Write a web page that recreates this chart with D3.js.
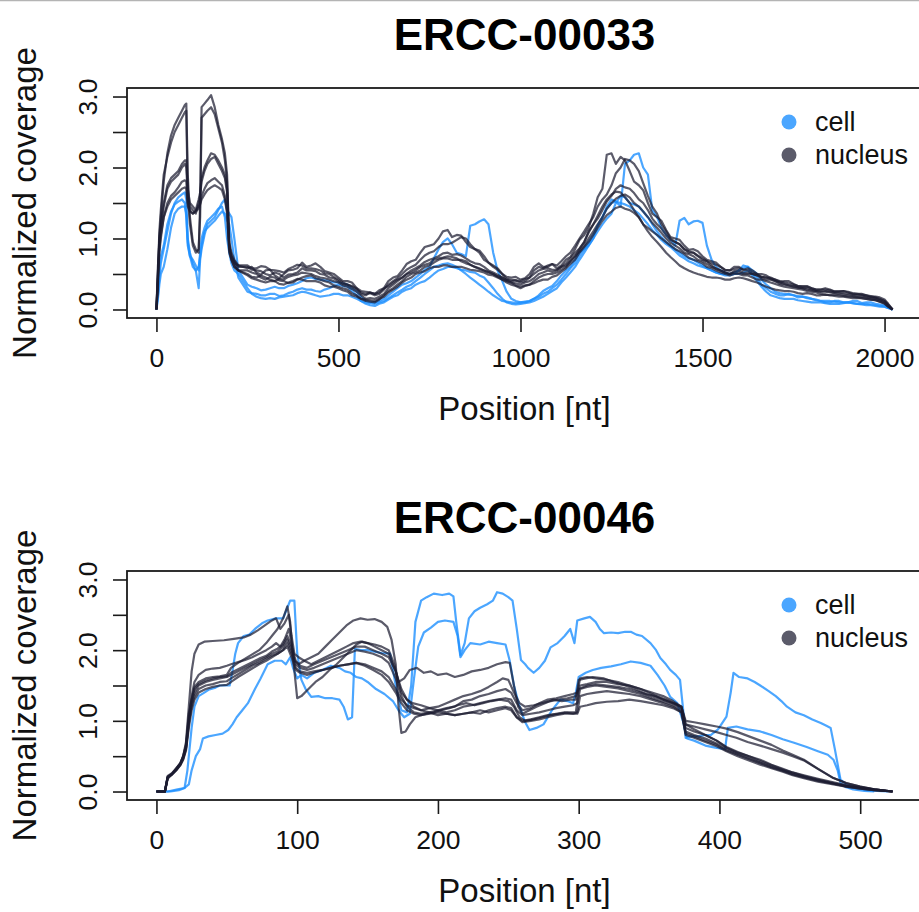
<!DOCTYPE html>
<html>
<head>
<meta charset="utf-8">
<script src="https://cdn.jsdelivr.net/npm/d3@7"></script>
<style>
  body { margin: 0; background: #fff; }
  svg { display: block; }
</style>
</head>
<body>
<script>
// colours
const cellColor = "rgba(30,144,255,0.8)";
const nucColor = "rgba(28,28,48,0.72)";

const legendLabels = ["cell", "nucleus"];
const yTicks = [0, 0.5, 1, 1.5, 2, 2.5, 3];
const yLabelled = [0, 1, 2, 3];

// ---------- ERCC-00033 ----------
const title33 = "ERCC-00033";
const xTicks33 = [0, 500, 1000, 1500, 2000];
const pos33 = [
  0, 4, 8, 12, 20, 30, 40, 50, 60, 70,
  78, 82, 86, 92, 100, 108, 116, 120, 124, 132,
  140, 150, 160, 170, 180, 188, 194, 200, 206, 214,
  225,
  250, 275, 300, 325, 350, 375, 400, 425, 450, 475,
  500, 525, 550, 575, 600, 625, 650, 675, 700, 725,
  750, 775, 800, 825, 850, 875, 900, 925, 950, 975,
  1000, 1025, 1050, 1075, 1100, 1125, 1150, 1175, 1200, 1225,
  1250, 1275, 1300, 1325, 1350, 1375, 1400, 1425, 1450, 1475,
  1500, 1525, 1550, 1575, 1600, 1625, 1650, 1675, 1700, 1725,
  1750, 1775, 1800, 1825, 1850, 1875, 1900, 1925, 1950, 1975,
  2000, 2010, 2022
];
// extra in-between positions (the curves are noisy)
const pos33mid = [
  262, 287, 312, 337, 362, 387, 412, 437, 462, 487,
  512, 537, 562, 587, 612, 637, 662, 687, 712, 737,
  762, 787, 812, 837, 862, 887, 912, 937, 962, 987,
  1012, 1037, 1062, 1087, 1112, 1137, 1162, 1187, 1212, 1237,
  1262, 1287, 1312, 1337, 1362, 1387, 1412, 1437, 1462, 1487,
  1512, 1537, 1562, 1587, 1612, 1637, 1662, 1687, 1712, 1737,
  1762, 1787, 1812, 1837, 1862, 1887, 1912, 1937, 1962, 1987
];

const cell33a = [
  0, .2, .45, .65, .85, 1.1, 1.35, 1.5, 1.58, 1.62,
  1.65, 1.55, 1.0, .8, .65, .55, .3, .7, .85, 1.05,
  1.2, 1.25, 1.3, 1.4, 1.5, 1.55, 1.4, 1.35, 1.3, 1.0,
  .55,
  .35, .3, .28, .32, .3, .35, .4, .45, .42, .4,
  .38, .35, .25, .12, .1, .15, .25, .35, .4, .5,
  .6, .85, 1.0, .8, .75, 1.2, 1.27, .8, .4, .15,
  .1, .12, .2, .3, .4, .55, .7, .85, 1.0, 1.3,
  1.5, 1.45, 2.1, 2.2, 1.9, 1.3, 1.05, .9, 1.29, 1.24,
  1.22, .7, .55, .5, .55, .6, .45, .3, .22, .2,
  .2, .18, .15, .12, .1, .12, .1, .12, .1, .08,
  .06, .03, 0
];
const cell33aMid = [
  .32, .27, .3, .3, .33, .37, .44, .43, .41, .38,
  .37, .3, .18, .1, .12, .2, .3, .37, .45, .56,
  .72, .95, .92, .78, 1.18, 1.24, 1.2, .55, .25, .12,
  .1, .15, .26, .33, .48, .6, .8, .9, 1.18, 1.42,
  1.52, 2.05, 2.18, 2.0, 1.4, 1.15, .98, 1.25, 1.2, 1.25,
  .9, .6, .52, .5, .62, .5, .35, .25, .2, .22,
  .17, .17, .14, .1, .12, .1, .12, .09, .1, .07
];
const cell33b = [
  0, .15, .35, .5, .6, .85, 1.15, 1.35, 1.42, 1.45,
  1.45, 1.35, .95, .75, .6, .55, .6, .75, .9, 1.1,
  1.15, 1.2, 1.25, 1.32, 1.38, 1.35, 1.25, 1.2, 1.0, .7,
  .45,
  .25, .22, .2, .22, .2, .25, .3, .28, .25, .3,
  .35, .32, .2, .08, .05, .1, .18, .25, .3, .38,
  .45, .55, .6, .58, .55, .52, .45, .3, .15, .08,
  .08, .1, .15, .22, .3, .45, .6, .8, 1.0, 1.2,
  1.35, 1.6, 1.5, 1.45, 1.3, 1.1, .95, .85, .75, .7,
  .62, .55, .5, .48, .5, .55, .4, .25, .18, .15,
  .15, .12, .1, .1, .08, .08, .1, .08, .06, .05,
  .04, .02, 0
];
const cell33bMid = [
  .23, .2, .22, .19, .23, .28, .28, .26, .28, .33,
  .33, .26, .12, .06, .08, .14, .2, .28, .35, .4,
  .5, .57, .6, .56, .53, .48, .38, .22, .1, .07,
  .09, .12, .18, .26, .38, .52, .7, .9, 1.1, 1.28,
  1.5, 1.58, 1.48, 1.38, 1.2, 1.02, .9, .8, .72, .66,
  .58, .52, .48, .5, .52, .48, .32, .2, .16, .15,
  .13, .11, .1, .09, .08, .09, .09, .07, .06, .04
];
const cell33c = [
  0, .3, .55, .75, .9, 1.2, 1.38, 1.48, 1.52, 1.55,
  1.5, 1.3, .9, .75, .7, .62, .55, .8, 1.0, 1.15,
  1.25, 1.3, 1.35, 1.42, 1.45, 1.3, 1.0, .8, .65, .55,
  .5,
  .3, .18, .15, .15, .18, .2, .25, .22, .18, .2,
  .22, .2, .15, .1, .08, .12, .2, .28, .35, .45,
  .55, .62, .65, .6, .5, .4, .3, .2, .12, .1,
  .1, .12, .18, .25, .35, .5, .65, .85, 1.05, 1.3,
  1.55, 1.5, 1.45, 1.35, 1.2, 1.05, .92, .82, .72, .65,
  .6, .55, .5, .5, .55, .6, .5, .35, .25, .22,
  .2, .18, .15, .12, .12, .1, .1, .08, .08, .06,
  .04, .02, 0
];
const cell33cMid = [
  .22, .16, .16, .17, .19, .23, .24, .2, .19, .22,
  .2, .18, .12, .09, .1, .16, .24, .32, .4, .5,
  .6, .64, .63, .55, .45, .35, .25, .16, .11, .09,
  .11, .15, .22, .3, .42, .58, .75, .95, 1.18, 1.45,
  1.52, 1.48, 1.4, 1.28, 1.12, .98, .88, .76, .68, .62,
  .58, .52, .5, .52, .58, .55, .42, .3, .23, .21,
  .19, .16, .13, .12, .11, .1, .09, .08, .07, .05
];

const nuc33a = [
  0, .3, 1.0, 1.3, 1.8, 2.2, 2.45, 2.6, 2.7, 2.8,
  2.88, 2.9, 1.9, 1.3, .95, .85, .8, 1.5, 2.85, 2.9,
  2.95, 3.02, 2.85, 2.6, 2.4, 2.2, 1.9, .95, .8, .7,
  .62,
  .58, .52, .55, .48, .5, .56, .66, .62, .6, .52,
  .45, .4, .3, .2, .22, .3, .45, .55, .68, .8,
  .9, 1.0, 1.12, 1.05, .95, .85, .75, .62, .5, .42,
  .38, .45, .6, .62, .58, .7, .85, 1.05, 1.35, 1.7,
  2.2, 2.15, 1.95, 1.75, 1.5, 1.3, 1.12, 1.0, .9, .85,
  .75, .68, .6, .55, .6, .58, .5, .45, .42, .4,
  .36, .33, .3, .28, .28, .25, .24, .22, .2, .18,
  .14, .08, 0
];
const nuc33aMid = [
  .6, .49, .56, .44, .55, .58, .6, .65, .54, .5,
  .4, .38, .22, .24, .24, .4, .47, .64, .7, .88,
  .92, 1.1, 1.02, 1.04, .88, .83, .66, .58, .43, .41,
  .4, .55, .58, .64, .62, .74, .98, 1.15, 1.58, 2.18,
  2.05, 2.1, 1.8, 1.68, 1.35, 1.25, 1.02, .98, .84, .82,
  .7, .66, .55, .6, .56, .55, .46, .45, .39, .4,
  .33, .33, .28, .3, .25, .26, .22, .22, .18, .17
];
const nuc33b = [
  0, .5, 1.1, 1.4, 1.9, 2.15, 2.35, 2.5, 2.6, 2.7,
  2.78, 2.8, 1.6, 1.2, .9, .8, .85, 1.3, 2.7, 2.75,
  2.8, 2.85, 2.75, 2.55, 2.35, 2.1, 1.8, .9, .75, .68,
  .6,
  .6, .55, .5, .52, .45, .5, .58, .55, .5, .45,
  .4, .35, .28, .22, .2, .28, .4, .5, .6, .7,
  .8, .88, .92, .98, 1.0, .85, .7, .6, .5, .45,
  .42, .5, .65, .6, .62, .75, .9, 1.1, 1.3, 1.55,
  1.75, 2.0, 2.1, 1.95, 1.6, 1.35, 1.1, .95, .85, .8,
  .7, .62, .55, .5, .55, .52, .48, .42, .4, .35,
  .33, .3, .28, .25, .25, .24, .22, .2, .18, .16,
  .12, .06, 0
];
const nuc33bMid = [
  .56, .54, .48, .5, .49, .52, .55, .54, .49, .44,
  .36, .32, .24, .23, .22, .35, .44, .56, .63, .76,
  .82, .92, .94, 1.02, .92, .8, .66, .56, .46, .46,
  .44, .6, .6, .64, .68, .8, 1.0, 1.2, 1.45, 1.62,
  1.92, 2.12, 2.05, 1.78, 1.45, 1.2, 1.0, .92, .8, .75,
  .68, .57, .52, .54, .52, .5, .44, .42, .36, .34,
  .31, .3, .26, .26, .24, .23, .21, .2, .17, .14
];
const nuc33c = [
  0, .6, 1.0, 1.2, 1.5, 1.75, 1.85, 1.9, 1.95, 2.05,
  2.1, 2.1, 1.7, 1.5, 1.45, 1.4, 1.55, 1.65, 1.85, 2.0,
  2.1, 2.2, 2.18, 2.1, 2.0, 1.9, 1.7, .9, .75, .65,
  .55,
  .5, .45, .45, .4, .42, .48, .52, .5, .45, .42,
  .38, .32, .25, .15, .15, .22, .35, .45, .55, .62,
  .7, .75, .8, .78, .72, .65, .6, .52, .45, .38,
  .35, .4, .5, .55, .55, .65, .8, .95, 1.2, 1.4,
  1.6, 1.75, 1.7, 1.55, 1.4, 1.2, 1.05, .95, .85, .8,
  .72, .65, .6, .55, .58, .55, .5, .48, .42, .38,
  .35, .32, .3, .28, .27, .26, .25, .22, .2, .17,
  .12, .07, 0
];
const nuc33cMid = [
  .46, .48, .42, .43, .46, .49, .51, .47, .44, .4,
  .34, .29, .2, .16, .18, .3, .4, .5, .58, .67,
  .72, .79, .77, .76, .68, .64, .55, .49, .41, .37,
  .38, .44, .52, .53, .6, .72, .86, 1.1, 1.28, 1.52,
  1.7, 1.72, 1.64, 1.5, 1.28, 1.14, .98, .92, .82, .76,
  .68, .63, .56, .57, .56, .52, .5, .44, .4, .37,
  .33, .32, .28, .28, .26, .26, .23, .21, .19, .15
];
const nuc33d = [
  0, .5, .95, 1.15, 1.45, 1.7, 1.8, 1.85, 1.9, 2.0,
  2.05, 2.0, 1.6, 1.45, 1.4, 1.35, 1.5, 1.6, 1.8, 1.95,
  2.05, 2.12, 2.15, 2.05, 1.95, 1.85, 1.65, .85, .7, .6,
  .55,
  .55, .5, .42, .45, .4, .38, .45, .48, .42, .38,
  .32, .28, .2, .12, .1, .2, .3, .4, .5, .55,
  .62, .7, .72, .7, .68, .6, .55, .5, .42, .35,
  .3, .35, .45, .5, .52, .6, .75, .9, 1.1, 1.3,
  1.5, 1.6, 1.58, 1.45, 1.3, 1.15, 1.0, .9, .8, .75,
  .68, .6, .55, .5, .52, .5, .48, .45, .4, .36,
  .32, .3, .27, .25, .24, .22, .2, .18, .17, .15,
  .1, .05, 0
];
const nuc33dMid = [
  .52, .45, .46, .41, .37, .42, .47, .44, .4, .34,
  .3, .23, .15, .11, .14, .26, .35, .46, .52, .6,
  .66, .72, .7, .7, .63, .58, .52, .46, .38, .33,
  .33, .4, .48, .5, .56, .68, .82, 1.0, 1.2, 1.42,
  1.56, 1.62, 1.5, 1.38, 1.22, 1.08, .94, .86, .78, .7,
  .64, .58, .52, .52, .5, .5, .46, .43, .38, .34,
  .31, .28, .26, .25, .23, .21, .19, .18, .16, .13
];
const nuc33e = [
  0, .4, .8, 1.0, 1.3, 1.5, 1.6, 1.65, 1.72, 1.8,
  1.82, 1.8, 1.5, 1.4, 1.35, 1.4, 1.45, 1.5, 1.6, 1.7,
  1.78, 1.82, 1.85, 1.8, 1.75, 1.6, 1.4, .8, .7, .6,
  .55,
  .48, .42, .38, .4, .35, .4, .42, .4, .38, .32,
  .3, .25, .18, .14, .12, .18, .28, .38, .45, .52,
  .58, .6, .62, .6, .58, .55, .52, .48, .42, .38,
  .32, .35, .4, .42, .48, .58, .7, .88, 1.05, 1.25,
  1.38, 1.45, 1.4, 1.3, 1.15, 1.05, .95, .85, .78, .7,
  .65, .58, .52, .48, .5, .48, .42, .4, .36, .32,
  .3, .28, .25, .22, .2, .2, .18, .17, .15, .13,
  .09, .04, 0
];
const nuc33eMid = [
  .44, .4, .4, .36, .38, .43, .4, .4, .34, .32,
  .27, .2, .15, .13, .15, .24, .32, .42, .5, .54,
  .6, .62, .6, .6, .56, .54, .49, .45, .4, .34,
  .34, .37, .42, .46, .53, .64, .8, .95, 1.15, 1.33,
  1.43, 1.42, 1.36, 1.2, 1.1, 1.0, .9, .82, .73, .68,
  .6, .55, .5, .5, .48, .45, .42, .38, .34, .31,
  .29, .26, .24, .21, .21, .19, .18, .16, .14, .11
];
const nuc33f = [
  0, .45, .85, 1.05, 1.3, 1.45, 1.55, 1.6, 1.65, 1.7,
  1.72, 1.7, 1.45, 1.38, 1.35, 1.38, 1.42, 1.48, 1.55, 1.62,
  1.68, 1.72, 1.75, 1.72, 1.68, 1.55, 1.35, .85, .72, .65,
  .62,
  .62, .58, .6, .55, .52, .6, .62, .58, .55, .5,
  .42, .35, .3, .25, .22, .3, .38, .45, .52, .6,
  .65, .72, .75, .72, .65, .6, .55, .5, .45, .4,
  .4, .45, .55, .58, .56, .62, .75, .95, 1.2, 1.45,
  1.62, 1.65, 1.5, 1.3, 1.1, .95, .8, .68, .58, .52,
  .48, .45, .44, .42, .45, .42, .38, .32, .28, .26,
  .25, .22, .22, .2, .2, .18, .17, .16, .15, .13,
  .08, .04, 0
];
const nuc33fMid = [
  .58, .61, .56, .54, .57, .63, .58, .57, .51, .46,
  .38, .33, .26, .24, .27, .33, .42, .5, .55, .63,
  .7, .73, .74, .68, .63, .57, .53, .47, .42, .41,
  .43, .5, .57, .56, .6, .68, .85, 1.08, 1.32, 1.55,
  1.66, 1.58, 1.4, 1.2, 1.02, .88, .74, .62, .55, .5,
  .46, .45, .42, .44, .44, .4, .35, .3, .27, .26,
  .23, .23, .2, .21, .19, .18, .16, .16, .14, .11
];

// ---------- ERCC-00046 ----------  ([position, coverage] pairs)
const title46 = "ERCC-00046";
const xTicks46 = [0, 100, 200, 300, 400, 500];

const cell46a = [[0,0],[8,0],[15,0.03],[20,0.05],[22,0.3],[25,0.9],[27,1.2],[30,1.35],[34,1.4],[37,1.44],[42,1.47],[45,1.5],[52,1.5],[54,1.7],[56,1.95],[58,2.1],[62,2.2],[66,2.22],[70,2.3],[75,2.38],[79,2.42],[85,2.45],[90,2.45],[93,2.6],[95,2.7],[98,2.7],[100,1.96],[103,1.58],[106,1.45],[110,1.34],[115,1.35],[120,1.32],[125,1.32],[130,1.3],[133,1.2],[136,1.02],[139,1.05],[141,2.02],[145,2.0],[150,2.0],[155,1.98],[160,1.96],[166,1.95],[170,1.5],[174,1.15],[178,1.12],[181,1.5],[184,2.4],[188,2.7],[192,2.75],[197,2.8],[203,2.78],[208,2.8],[211,2.76],[213,2.4],[216,1.93],[219,2.1],[222,2.45],[226,2.55],[230,2.6],[235,2.65],[239,2.7],[242,2.82],[246,2.8],[250,2.75],[253,2.7],[256,2.3],[259,1.86],[262,1.8],[264,1.75],[268,1.68],[272,1.75],[276,1.85],[280,2.04],[285,2.1],[290,2.2],[294,2.3],[297,2.1],[299,2.42],[304,2.45],[308,2.47],[312,2.4],[315,2.3],[318,2.24],[323,2.25],[328,2.24],[333,2.26],[337,2.26],[341,2.22],[345,2.2],[351,2.1],[355,2.0],[358,1.89],[362,1.8],[365,1.72],[369,1.65],[372,1.58],[374,1.2],[376,0.76],[380,0.78],[385,0.78],[390,0.8],[394,0.8],[399,0.88],[403,1.0],[405,1.06],[408,1.4],[410,1.68],[414,1.62],[420,1.6],[425,1.55],[429,1.5],[435,1.42],[440,1.35],[444,1.28],[448,1.2],[454,1.12],[460,1.08],[466,1.02],[472,0.97],[476,0.93],[479,0.9],[482,0.6],[486,0.17],[490,0.1],[495,0.06],[500,0.04],[505,0.02],[512,0.01],[520,0]];
const cell46b = [[0,0],[10,0],[16,0.02],[20,0.05],[23,0.1],[25,0.3],[28,0.5],[31,0.6],[33,0.75],[37,0.78],[42,0.8],[47,0.82],[51,0.87],[54,0.95],[57,1.05],[61,1.15],[65,1.25],[70,1.45],[74,1.6],[79,1.8],[84,1.85],[89,1.85],[92,1.8],[95,1.9],[97,1.75],[100,1.6],[103,1.65],[107,1.6],[112,1.68],[118,1.72],[124,1.78],[130,1.75],[134,1.7],[138,1.68],[142,1.62],[146,1.6],[150,1.55],[156,1.45],[162,1.38],[168,1.28],[172,1.15],[176,1.05],[180,1.1],[183,1.6],[186,2.05],[190,2.25],[195,2.32],[200,2.4],[205,2.42],[211,2.4],[214,2.2],[216,1.9],[219,2.0],[223,2.1],[230,2.08],[236,2.12],[242,2.1],[248,2.08],[251,1.85],[254,1.5],[258,1.2],[262,0.98],[265,0.87],[270,0.9],[275,0.95],[281,1.15],[287,1.3],[292,1.28],[296,1.25],[298,1.4],[300,1.62],[305,1.68],[310,1.72],[316,1.75],[323,1.77],[330,1.8],[337,1.84],[344,1.82],[351,1.78],[356,1.65],[361,1.5],[365,1.34],[370,1.25],[374,1.0],[377,0.75],[382,0.72],[390,0.65],[397,0.62],[404,0.6],[406,0.9],[412,0.92],[420,0.88],[429,0.85],[437,0.8],[445,0.74],[453,0.69],[462,0.63],[470,0.57],[477,0.52],[481,0.45],[484,0.3],[486,0.12],[490,0.06],[495,0.03],[503,0.01],[510,0]];

const nuc46a = [[0,0],[6,0],[8,0.2],[11,0.25],[14,0.32],[17,0.4],[19,0.5],[21,0.7],[23,1.2],[25,1.7],[27,1.95],[30,2.08],[34,2.12],[40,2.13],[48,2.14],[55,2.16],[62,2.18],[67,2.22],[72,2.28],[77,2.35],[82,2.42],[85,2.45],[88,2.3],[91,2.38],[94,2.5],[96,2.2],[98,1.95],[101,1.9],[105,1.85],[110,1.8],[115,1.85],[120,1.9],[125,1.95],[130,2.0],[135,2.05],[140,2.1],[145,2.12],[150,2.1],[155,2.08],[160,2.05],[165,2.0],[169,1.8],[172,1.55],[176,1.6],[180,1.72],[185,1.75],[190,1.68],[195,1.7],[200,1.65],[206,1.67],[212,1.62],[218,1.65],[224,1.7],[230,1.72],[236,1.75],[242,1.8],[248,1.83],[251,1.82],[254,1.5],[257,1.2],[260,1.1],[265,1.15],[270,1.2],[276,1.25],[282,1.3],[288,1.28],[294,1.3],[298,1.3],[300,1.58],[305,1.6],[310,1.62],[318,1.6],[325,1.55],[333,1.5],[340,1.45],[348,1.38],[355,1.35],[362,1.3],[368,1.25],[373,1.2],[376,0.95],[382,0.92],[390,0.88],[398,0.84],[405,0.8],[412,0.76],[420,0.7],[429,0.65],[437,0.6],[445,0.55],[452,0.5],[460,0.44],[470,0.32],[481,0.19],[490,0.12],[500,0.07],[510,0.03],[523,0]];
const nuc46b = [[0,0],[6,0],[8,0.18],[11,0.24],[14,0.3],[17,0.38],[19,0.48],[21,0.62],[23,1.0],[25,1.35],[27,1.55],[30,1.65],[35,1.72],[40,1.74],[45,1.75],[50,1.78],[53,1.8],[58,1.83],[63,1.86],[68,1.9],[73,1.95],[78,2.0],[82,2.05],[85,2.1],[88,2.05],[91,2.15],[94,2.3],[96,2.1],[98,1.85],[101,1.8],[105,1.85],[110,1.9],[115,1.95],[120,2.05],[125,2.15],[130,2.25],[135,2.35],[140,2.42],[145,2.45],[150,2.43],[155,2.44],[160,2.4],[164,2.33],[167,2.15],[170,1.8],[172,1.2],[174,0.83],[177,0.85],[180,0.95],[184,1.05],[188,1.08],[192,1.1],[197,1.12],[202,1.15],[208,1.18],[214,1.22],[220,1.25],[226,1.22],[232,1.25],[238,1.28],[244,1.3],[250,1.28],[254,1.2],[258,1.05],[262,1.0],[268,1.02],[274,1.05],[280,1.08],[286,1.1],[292,1.12],[298,1.12],[300,1.45],[306,1.5],[312,1.52],[320,1.5],[328,1.48],[336,1.45],[344,1.4],[352,1.35],[360,1.3],[367,1.25],[373,1.18],[376,0.9],[382,0.85],[390,0.8],[398,0.72],[405,0.63],[413,0.56],[421,0.5],[429,0.45],[437,0.38],[445,0.32],[452,0.27],[460,0.23],[470,0.18],[481,0.13],[490,0.09],[500,0.06],[510,0.03],[523,0]];
const nuc46c = [[0,0],[6,0],[8,0.22],[11,0.26],[14,0.33],[17,0.4],[19,0.5],[21,0.65],[23,1.05],[25,1.3],[27,1.48],[30,1.55],[35,1.6],[40,1.62],[45,1.63],[50,1.65],[53,1.75],[58,1.82],[63,1.88],[68,1.94],[73,2.0],[78,2.1],[82,2.2],[86,2.3],[90,2.45],[93,2.62],[95,2.4],[97,1.9],[100,1.32],[103,1.35],[108,1.45],[113,1.55],[118,1.62],[123,1.72],[128,1.8],[133,1.9],[138,2.0],[142,2.08],[146,2.12],[150,2.1],[155,2.05],[160,2.0],[165,1.95],[170,1.7],[174,1.4],[178,1.3],[182,1.25],[188,1.22],[194,1.18],[200,1.15],[206,1.18],[212,1.2],[218,1.28],[224,1.3],[230,1.35],[236,1.38],[242,1.42],[248,1.45],[252,1.4],[256,1.25],[260,1.15],[266,1.18],[272,1.25],[278,1.3],[284,1.32],[290,1.35],[296,1.38],[299,1.4],[301,1.6],[306,1.62],[312,1.6],[320,1.58],[328,1.55],[336,1.5],[344,1.45],[352,1.38],[360,1.3],[367,1.25],[373,1.2],[376,0.95],[382,0.88],[390,0.8],[398,0.72],[405,0.62],[413,0.55],[421,0.5],[429,0.43],[437,0.37],[445,0.31],[452,0.27],[460,0.22],[470,0.17],[481,0.12],[490,0.08],[500,0.05],[510,0.03],[523,0]];
const nuc46d = [[0,0],[6,0],[8,0.2],[11,0.24],[14,0.3],[17,0.38],[19,0.46],[21,0.6],[23,0.95],[25,1.25],[27,1.4],[30,1.5],[35,1.55],[40,1.58],[45,1.6],[50,1.62],[53,1.65],[58,1.7],[63,1.75],[68,1.8],[73,1.85],[78,1.9],[82,1.95],[86,1.98],[90,2.05],[93,2.15],[96,2.0],[99,1.8],[102,1.75],[107,1.72],[112,1.75],[118,1.8],[124,1.85],[130,1.9],[136,1.95],[142,2.0],[148,1.98],[154,1.95],[160,1.9],[165,1.82],[170,1.6],[174,1.35],[178,1.2],[183,1.12],[188,1.1],[194,1.12],[200,1.08],[206,1.1],[212,1.08],[218,1.1],[224,1.12],[230,1.1],[236,1.15],[242,1.18],[248,1.2],[252,1.18],[256,1.05],[260,0.98],[266,1.0],[272,1.02],[278,1.05],[284,1.08],[290,1.1],[296,1.1],[299,1.12],[301,1.35],[306,1.38],[312,1.4],[320,1.42],[328,1.4],[336,1.38],[344,1.35],[352,1.3],[360,1.25],[367,1.2],[373,1.12],[376,0.85],[382,0.8],[390,0.75],[398,0.68],[405,0.6],[413,0.53],[421,0.47],[429,0.41],[437,0.35],[445,0.3],[452,0.25],[460,0.21],[470,0.16],[481,0.11],[490,0.08],[500,0.05],[510,0.02],[523,0]];
const nuc46e = [[0,0],[6,0],[8,0.2],[11,0.25],[14,0.31],[17,0.39],[19,0.47],[21,0.62],[23,0.98],[25,1.2],[27,1.35],[30,1.45],[35,1.5],[40,1.52],[45,1.55],[50,1.56],[53,1.6],[58,1.66],[63,1.72],[68,1.78],[73,1.82],[78,1.88],[82,1.92],[86,1.95],[90,2.0],[93,2.1],[96,1.95],[99,1.75],[102,1.7],[107,1.68],[112,1.7],[118,1.72],[124,1.75],[130,1.78],[136,1.8],[142,1.82],[148,1.8],[154,1.75],[160,1.7],[165,1.62],[170,1.45],[174,1.3],[178,1.22],[183,1.18],[188,1.15],[194,1.18],[200,1.2],[206,1.25],[212,1.3],[218,1.35],[224,1.38],[230,1.42],[236,1.48],[242,1.55],[246,1.6],[250,1.58],[254,1.4],[258,1.25],[262,1.2],[268,1.22],[274,1.25],[280,1.28],[286,1.3],[292,1.32],[298,1.35],[301,1.5],[306,1.52],[312,1.55],[320,1.55],[328,1.52],[336,1.5],[344,1.45],[352,1.4],[360,1.35],[367,1.28],[373,1.2],[376,1.0],[382,0.98],[390,0.95],[398,0.92],[405,0.89],[413,0.84],[421,0.78],[429,0.72],[437,0.66],[445,0.58],[452,0.52],[460,0.45],[470,0.32],[481,0.19],[490,0.12],[500,0.07],[510,0.03],[523,0]];
const nuc46f = [[0,0],[6,0],[8,0.21],[11,0.25],[14,0.32],[17,0.4],[19,0.5],[21,0.66],[23,1.1],[25,1.3],[27,1.45],[30,1.52],[35,1.57],[40,1.6],[45,1.62],[50,1.63],[53,1.68],[58,1.73],[63,1.78],[68,1.83],[73,1.88],[78,1.92],[82,1.98],[86,2.02],[90,2.08],[93,2.2],[96,2.05],[99,1.85],[102,1.78],[107,1.75],[112,1.8],[118,1.85],[124,1.9],[130,1.95],[136,2.0],[142,2.05],[148,2.05],[154,2.0],[160,1.95],[165,1.9],[170,1.7],[174,1.45],[178,1.3],[183,1.2],[188,1.15],[194,1.12],[200,1.15],[206,1.12],[212,1.15],[218,1.2],[224,1.22],[230,1.25],[236,1.28],[242,1.3],[248,1.32],[252,1.3],[256,1.15],[260,1.08],[266,1.1],[272,1.12],[278,1.15],[284,1.18],[290,1.2],[296,1.22],[299,1.25],[301,1.45],[306,1.48],[312,1.5],[320,1.48],[328,1.46],[336,1.42],[344,1.38],[352,1.32],[360,1.27],[367,1.22],[373,1.15],[376,0.82],[382,0.78],[390,0.72],[398,0.66],[405,0.58],[413,0.52],[421,0.46],[429,0.4],[437,0.34],[445,0.29],[452,0.24],[460,0.2],[470,0.15],[481,0.11],[490,0.07],[500,0.04],[510,0.02],[523,0]];
const nuc46g = [[0,0],[6,0],[8,0.2],[11,0.24],[14,0.3],[17,0.37],[19,0.45],[21,0.58],[23,0.9],[25,1.15],[27,1.3],[30,1.4],[35,1.45],[40,1.48],[45,1.5],[50,1.51],[53,1.55],[58,1.62],[63,1.68],[68,1.74],[73,1.8],[78,1.85],[82,1.9],[86,1.95],[90,2.0],[93,2.05],[96,1.9],[99,1.72],[102,1.68],[107,1.65],[112,1.68],[118,1.72],[124,1.75],[130,1.78],[136,1.8],[142,1.82],[148,1.78],[154,1.72],[160,1.65],[165,1.55],[170,1.4],[174,1.25],[178,1.15],[183,1.1],[188,1.08],[194,1.1],[200,1.12],[206,1.1],[212,1.08],[218,1.1],[224,1.12],[230,1.15],[236,1.12],[242,1.15],[248,1.18],[252,1.15],[256,1.05],[260,1.0],[266,1.02],[272,1.05],[278,1.08],[284,1.1],[290,1.12],[296,1.1],[299,1.1],[301,1.2],[306,1.22],[312,1.25],[320,1.27],[328,1.28],[336,1.3],[344,1.28],[352,1.25],[360,1.22],[367,1.18],[373,1.12],[376,0.8],[382,0.76],[390,0.7],[398,0.64],[405,0.57],[413,0.5],[421,0.44],[429,0.38],[437,0.33],[445,0.28],[452,0.23],[460,0.19],[470,0.14],[481,0.1],[490,0.07],[500,0.04],[510,0.02],[523,0]];

// build series lists
const zip = (pos, vals) => pos.map((p, i) => [p, vals[i]]);
const join33 = (v, m) => zip(pos33, v).concat(zip(pos33mid, m)).sort((a, b) => a[0] - b[0]);
const cells33 = [
  join33(cell33a, cell33aMid), join33(cell33b, cell33bMid), join33(cell33c, cell33cMid)
];
const nucs33 = [
  join33(nuc33a, nuc33aMid), join33(nuc33b, nuc33bMid), join33(nuc33c, nuc33cMid),
  join33(nuc33d, nuc33dMid), join33(nuc33e, nuc33eMid), join33(nuc33f, nuc33fMid)
];
const cells46 = [cell46a, cell46b];
const nucs46 = [nuc46a, nuc46b, nuc46c, nuc46d, nuc46e, nuc46f, nuc46g];

/*============ drawing ============*/
const width = 919, height = 912;
const font = "'Liberation Sans', Arial, Helvetica, sans-serif";
const boxLeft = 127, boxRight = 922;

const svg = d3.select("body").append("svg")
  .attr("width", width)
  .attr("height", height)
  .attr("viewBox", [0, 0, width, height])
  .style("font-family", font);

svg.append("rect").attr("width", width).attr("height", height).attr("fill", "#fff");
// thin grey edge along the top of the image
svg.append("line")
  .attr("x1", 0).attr("x2", width).attr("y1", 0.5).attr("y2", 0.5)
  .attr("stroke", "#b4b4b4").attr("stroke-width", 1.5);

function panel(title, top, bottom, xTicks, cells, nucs) {
  // R style: data range padded by 4% each side
  const all = cells.concat(nucs).flat();
  const xMax = d3.max(all, d => d[0]);
  const xPad = xMax * 0.04;
  const x = d3.scaleLinear().domain([-xPad, xMax + xPad]).range([boxLeft, boxRight]);
  const y = d3.scaleLinear().domain([-0.12, 3.12]).range([bottom, top]);

  const g = svg.append("g");

  const line = d3.line().x(d => x(d[0])).y(d => y(d[1]));

  g.append("g")
    .selectAll("path")
    .data(cells)
    .join("path")
    .attr("d", line)
    .attr("fill", "none")
    .attr("stroke", cellColor)
    .attr("stroke-width", 2.2)
    .attr("stroke-linejoin", "round");

  g.append("g")
    .selectAll("path")
    .data(nucs)
    .join("path")
    .attr("d", line)
    .attr("fill", "none")
    .attr("stroke", nucColor)
    .attr("stroke-width", 2.2)
    .attr("stroke-linejoin", "round");

  // box
  g.append("rect")
    .attr("x", boxLeft).attr("y", top)
    .attr("width", boxRight - boxLeft).attr("height", bottom - top)
    .attr("fill", "none").attr("stroke", "#1a1a1a").attr("stroke-width", 1.8);

  // x axis
  const xa = g.append("g")
    .attr("transform", `translate(0,${bottom})`)
    .call(d3.axisBottom(x).tickValues(xTicks).tickSize(14).tickFormat(d3.format("d")));
  xa.select(".domain").remove();
  xa.selectAll(".tick line").attr("stroke", "#1a1a1a").attr("stroke-width", 1.6);
  xa.selectAll(".tick text")
    .attr("y", 49).attr("dy", null)
    .attr("fill", "#111")
    .style("font-size", "26.5px").style("font-family", font);

  // y axis (rotated labels, only at whole numbers)
  const ya = g.append("g")
    .attr("transform", `translate(${boxLeft},0)`)
    .call(d3.axisLeft(y).tickValues(yTicks).tickSize(14)
      .tickFormat(d => yLabelled.includes(d) ? d3.format(".1f")(d) : ""));
  ya.select(".domain").remove();
  ya.selectAll(".tick line").attr("stroke", "#1a1a1a").attr("stroke-width", 1.6);
  ya.selectAll(".tick text")
    .attr("x", 0).attr("y", -30).attr("dy", null)
    .attr("transform", "rotate(-90)")
    .attr("text-anchor", "middle")
    .attr("fill", "#111")
    .style("font-size", "26.5px").style("font-family", font);

  // titles
  g.append("text")
    .attr("x", (boxLeft + boxRight) / 2).attr("y", top - 38)
    .attr("text-anchor", "middle")
    .style("font-size", "44px").style("font-weight", "bold")
    .attr("fill", "#000")
    .text(title);

  g.append("text")
    .attr("x", (boxLeft + boxRight) / 2).attr("y", bottom + 102)
    .attr("text-anchor", "middle")
    .style("font-size", "33px")
    .attr("fill", "#111")
    .text("Position [nt]");

  g.append("text")
    .attr("transform", `translate(36,${(top + bottom) / 2}) rotate(-90)`)
    .attr("text-anchor", "middle")
    .style("font-size", "33px")
    .attr("fill", "#111")
    .text("Normalized coverage");

  // legend
  const lg = g.append("g")
    .attr("transform", `translate(789,${top + 34})`);
  const item = lg.selectAll("g")
    .data(legendLabels)
    .join("g")
    .attr("transform", (d, i) => `translate(0,${i * 33})`);
  item.append("circle")
    .attr("r", 7.5)
    .attr("fill", (d, i) => i === 0 ? cellColor : nucColor);
  item.append("text")
    .attr("x", 26).attr("dy", "0.35em")
    .style("font-size", "27px")
    .attr("fill", "#111")
    .text(d => d);
}

panel(title33, 88, 318, xTicks33, cells33, nucs33);
panel(title46, 571, 800, xTicks46, cells46, nucs46);
</script>
</body>
</html>
